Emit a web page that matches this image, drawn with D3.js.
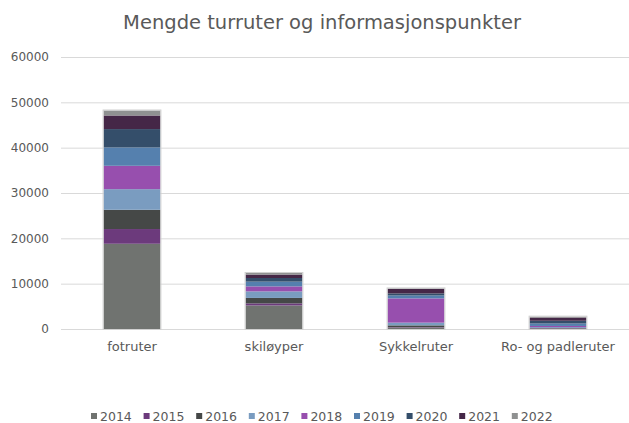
<!DOCTYPE html>
<html>
<head>
<meta charset="utf-8">
<script src="https://cdn.jsdelivr.net/npm/d3@7"></script>
<style>
  body { margin: 0; background: #fff; }
  text { font-family: "DejaVu Sans", Verdana, sans-serif; fill: #595959; }
</style>
</head>
<body>
<div id="chart"></div>
<script>
var categories = ["fotruter", "skiløyper", "Sykkelruter", "Ro- og padleruter"]
var years = ["2014", "2015", "2016", "2017", "2018", "2019", "2020", "2021", "2022"]

// one array per year, values per category
var v2014 = [18800, 5200, 300, 60]
var v2015 = [3250, 450, 100, 60]
var v2016 = [4250, 1200, 400, 100]
var v2017 = [4550, 1450, 600, 200]
var v2018 = [5150, 1100, 5350, 250]
var v2019 = [4050, 1050, 650, 550]
var v2020 = [4050, 800, 450, 600]
var v2021 = [3000, 750, 1000, 700]
var v2022 = [1100, 350, 100, 200]
var series = [v2014, v2015, v2016, v2017, v2018, v2019, v2020, v2021, v2022]

var yTicks = [0, 10000, 20000, 30000, 40000, 50000, 60000]
var colors = ["#707370", "#6c3a7c", "#454847", "#7a9cc0", "#974fae", "#5580ae", "#344e6a", "#452747", "#8f9191"]

var W = 629, H = 423
var margin = {top: 57, right: 0, bottom: 94, left: 61}
var width = W - margin.left - margin.right,
    height = H - margin.top - margin.bottom

var svg = d3.select("#chart").append("svg")
    .attr("width", W)
    .attr("height", H)

svg.append("text")
    .attr("x", 322)
    .attr("y", 29)
    .attr("text-anchor", "middle")
    .style("font-size", "19.5px")
    .text("Mengde turruter og informasjonspunkter")

var g = svg.append("g")
    .attr("transform", "translate(" + margin.left + "," + margin.top + ")")

var x = d3.scaleBand().domain(categories).range([0, width]).paddingInner(0.6).paddingOuter(0.3)
var y = d3.scaleLinear().domain([0, 60000]).range([height, 0])

// grid
g.selectAll(".grid").data(yTicks).enter().append("line")
    .attr("x1", 0).attr("x2", width)
    .attr("y1", function(d) { return y(d) + 0.5 })
    .attr("y2", function(d) { return y(d) + 0.5 })
    .attr("stroke", "#d9d9d9")

g.selectAll(".ylab").data(yTicks).enter().append("text")
    .attr("x", -12)
    .attr("y", function(d) { return y(d) })
    .attr("dy", "0.35em")
    .attr("text-anchor", "end")
    .style("font-size", "12px")
    .text(function(d) { return d })

// stacked data
var rows = categories.map(function(c, i) {
  var r = {cat: c}
  years.forEach(function(yr, j) { r[yr] = series[j][i] })
  return r
})
var stack = d3.stack().keys(years)(rows)

g.selectAll(".layer").data(stack).enter().append("g")
    .attr("fill", function(d, i) { return colors[i] })
  .selectAll("rect").data(function(d) { return d }).enter().append("rect")
    .attr("x", function(d) { return x(d.data.cat) })
    .attr("width", x.bandwidth())
    .attr("y", function(d) { return y(d[1]) })
    .attr("height", function(d) { return y(d[0]) - y(d[1]) })

// light outline round each bar
var totals = rows.map(function(r) { return {cat: r.cat, total: d3.sum(years, function(k) { return r[k] })} })
g.selectAll(".outline").data(totals).enter().append("rect")
    .attr("x", function(d) { return x(d.cat) - 0.5 })
    .attr("width", x.bandwidth() + 1)
    .attr("y", function(d) { return y(d.total) - 0.5 })
    .attr("height", function(d) { return y(0) - y(d.total) + 1 })
    .attr("fill", "none")
    .attr("stroke", "#d0d0d0")

g.selectAll(".xlab").data(categories).enter().append("text")
    .attr("x", function(d) { return x(d) + x.bandwidth() / 2 })
    .attr("y", height + 22)
    .attr("text-anchor", "middle")
    .style("font-size", "13px")
    .text(function(d) { return d })

// legend
var legend = svg.append("g").attr("transform", "translate(91,421)")
var item = legend.selectAll(".item").data(years).enter().append("g")
    .attr("transform", function(d, i) { return "translate(" + (i * 52.6) + ",0)" })
item.append("rect")
    .attr("x", 0).attr("y", -8)
    .attr("width", 6).attr("height", 6)
    .attr("fill", function(d, i) { return colors[i] })
item.append("text")
    .attr("x", 9)
    .attr("y", 0)
    .style("font-size", "12.5px")
    .text(function(d) { return d })
</script>
</body>
</html>
